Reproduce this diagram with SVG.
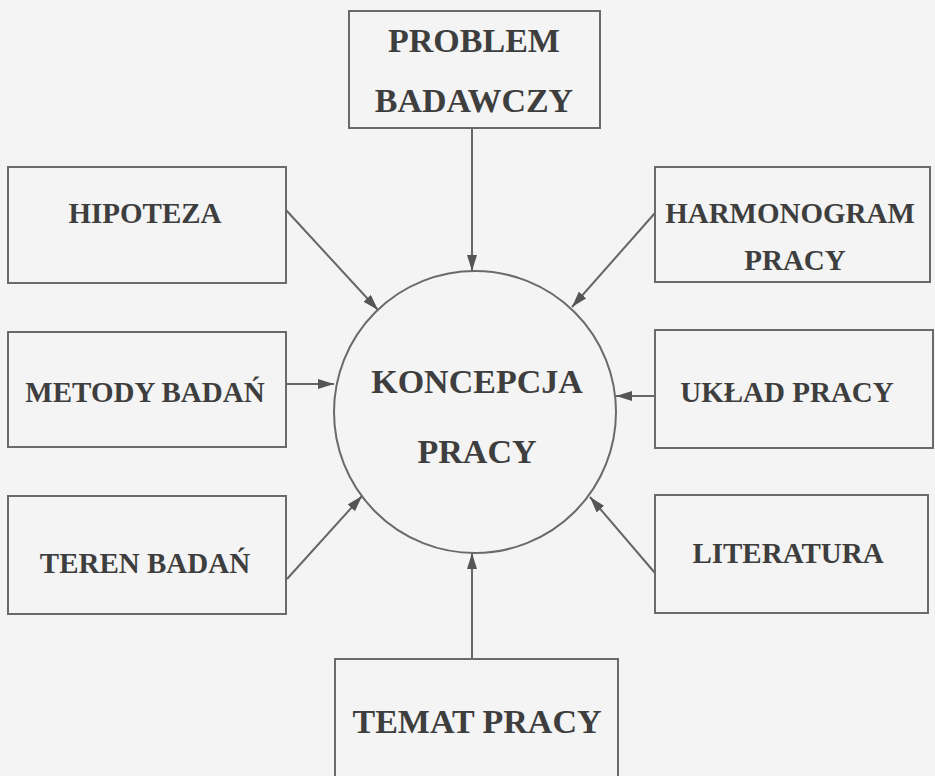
<svg xmlns="http://www.w3.org/2000/svg" width="935" height="776" viewBox="0 0 935 776">
<style>
.box{fill:none;stroke:#6a6a6a;stroke-width:2}
.lbl{font-family:"Liberation Serif","Times New Roman",serif;font-weight:bold;fill:#3e3e3e;text-anchor:middle}
.s{font-size:29px}
.b{font-size:34px}
.con{stroke:#666;stroke-width:2;fill:none;marker-end:url(#ah)}
</style>
<defs>
<marker id="ah" viewBox="0 0 16 10" refX="16" refY="5" markerWidth="16" markerHeight="10" markerUnits="userSpaceOnUse" orient="auto">
<path d="M0,0 L16,5 L0,10 Z" fill="#555"/>
</marker>
</defs>
<rect width="935" height="776" fill="#f4f4f4"/>
<g id="connectors">
<line class="con" x1="472" y1="128" x2="472" y2="271"/>
<line class="con" x1="286" y1="210" x2="378" y2="310"/>
<line class="con" x1="655" y1="213" x2="572" y2="307"/>
<line class="con" x1="286" y1="384" x2="334" y2="384"/>
<line class="con" x1="655" y1="396" x2="616" y2="396"/>
<line class="con" x1="287" y1="579" x2="362" y2="496"/>
<line class="con" x1="655" y1="573" x2="590" y2="497"/>
<line class="con" x1="472" y1="659" x2="472" y2="553"/>
</g>
<g id="koncepcja">
<circle cx="475" cy="412" r="141" fill="none" stroke="#6a6a6a" stroke-width="2"/>
<text class="lbl b" x="477" y="393">KONCEPCJA</text>
<text class="lbl b" x="477" y="463">PRACY</text>
</g>
<g id="problem">
<rect class="box" x="349" y="11" width="251" height="117"/>
<text class="lbl b" x="474" y="52">PROBLEM</text>
<text class="lbl b" x="474" y="112">BADAWCZY</text>
</g>
<g id="hipoteza">
<rect class="box" x="8" y="167" width="278" height="116"/>
<text class="lbl s" x="145" y="223">HIPOTEZA</text>
</g>
<g id="harmonogram">
<rect class="box" x="655" y="167" width="275" height="115"/>
<text class="lbl s" x="790" y="223">HARMONOGRAM</text>
<text class="lbl s" x="795" y="270">PRACY</text>
</g>
<g id="metody">
<rect class="box" x="8" y="332" width="278" height="115"/>
<text class="lbl s" x="145" y="402">METODY BADAŃ</text>
</g>
<g id="uklad">
<rect class="box" x="655" y="330" width="278" height="118"/>
<text class="lbl s" x="787" y="402">UKŁAD PRACY</text>
</g>
<g id="teren">
<rect class="box" x="8" y="496" width="278" height="118"/>
<text class="lbl s" x="145" y="573">TEREN BADAŃ</text>
</g>
<g id="literatura">
<rect class="box" x="655" y="495" width="273" height="118"/>
<text class="lbl s" x="788" y="563">LITERATURA</text>
</g>
<g id="temat">
<rect class="box" x="335" y="659" width="283" height="130"/>
<text class="lbl b" x="477" y="733">TEMAT PRACY</text>
</g>
</svg>
